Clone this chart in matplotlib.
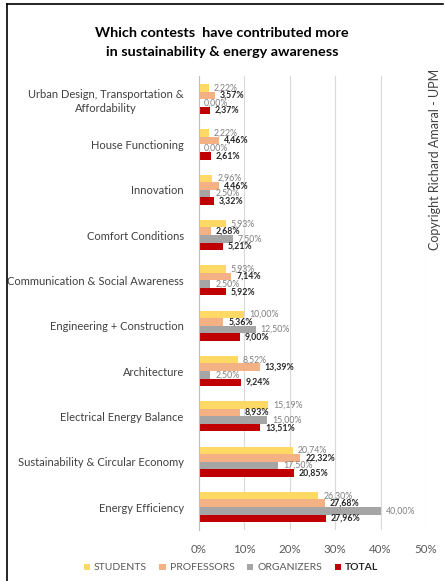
import matplotlib
matplotlib.use("Agg")
import matplotlib.pyplot as plt
from matplotlib.lines import Line2D
import numpy as np

plt.rcParams['font.family'] = ['Lato', 'DejaVu Sans']

categories = [
    "Urban Design, Transportation &\nAffordability",
    "House Functioning",
    "Innovation",
    "Comfort Conditions",
    "Communication & Social Awareness",
    "Engineering + Construction",
    "Architecture",
    "Electrical Energy Balance",
    "Sustainability & Circular Economy",
    "Energy Efficiency",
]
students = [2.22, 2.22, 2.96, 5.93, 5.93, 10.00, 8.52, 15.19, 20.74, 26.30]
professors = [3.57, 4.46, 4.46, 2.68, 7.14, 5.36, 13.39, 8.93, 22.32, 27.68]
organizers = [0.00, 0.00, 2.50, 7.50, 2.50, 12.50, 2.50, 15.00, 17.50, 40.00]
total = [2.37, 2.61, 3.32, 5.21, 5.92, 9.00, 9.24, 13.51, 20.85, 27.96]
series_names = ["STUDENTS", "PROFESSORS", "ORGANIZERS", "TOTAL"]
xticks = [0, 10, 20, 30, 40, 50]

colors = ["#FFD966", "#F4B183", "#A5A5A5", "#C00000"]
label_colors = ["#7F7F7F", "#262626", "#7F7F7F", "#262626"]
label_weights = ["normal", "bold", "normal", "bold"]

W, H = 445, 581
fig = plt.figure(figsize=(W / 100, H / 100), dpi=100)
ax = fig.add_axes([199 / W, 1 - 529.7 / H, (426 - 199) / W, (529.7 - 76.4) / H])

y = np.arange(len(categories))
h = 0.1667
all_series = [students, professors, organizers, total]
for k, vals in enumerate(all_series):
    offs = (k - 1.5) * h
    ax.barh(y + offs, vals, height=h, color=colors[k], label=series_names[k], zorder=3)
    for yi, v in zip(y, vals):
        ax.annotate(f"{v:.2f}%".replace(".", ","), xy=(v, yi + offs), xytext=(3.5, 0),
                    textcoords="offset points", va="center", ha="left",
                    fontsize=6.3, color=label_colors[k], fontweight=label_weights[k], zorder=4)

ax.set_xlim(0, 50)
ax.set_ylim(len(categories) - 0.5, -0.5)
ax.set_xticks(xticks)
ax.set_xticklabels([f"{t}%" for t in xticks])
ax.set_yticks(y)
ax.set_yticklabels(categories, multialignment="center", linespacing=1.35)
ax.tick_params(axis="both", length=0, colors="#595959", labelsize=8.3)
ax.tick_params(axis="y", pad=11, labelcolor="#404040", labelsize=8)
ax.tick_params(axis="x", pad=10)
ax.grid(axis="x", color="#D9D9D9", linewidth=0.8, zorder=0)
for s in ["top", "right", "bottom"]:
    ax.spines[s].set_visible(False)
ax.spines["left"].set_color("#BFBFBF")
ax.spines["left"].set_linewidth(0.8)
ax.spines["left"].set_zorder(5)

fig.text(222 / W, 1 - 42.5 / H,
         "Which contests  have contributed more\nin sustainability & energy awareness",
         ha="center", va="center", fontsize=10.4, fontweight="bold", color="#000000",
         linespacing=1.7)

fig.text(435 / W, 1 - 159 / H, "Copyright Richard Amaral - UPM", rotation=90,
         ha="center", va="center", fontsize=9, color="#404040")

handles, labels = ax.get_legend_handles_labels()
leg = fig.legend(handles, labels, loc="center", bbox_to_anchor=(231 / W, 1 - 568 / H),
                 ncol=4, frameon=False, fontsize=7.5, handlelength=0.6, handleheight=0.6,
                 handletextpad=0.4, columnspacing=1.2, labelcolor="#595959")
leg.get_texts()[3].set_fontweight("bold")
leg.get_texts()[3].set_color("#262626")

fig.add_artist(Line2D([7 / W, 443 / W], [1 - 4 / H, 1 - 4 / H], color="black", linewidth=1.2,
                      transform=fig.transFigure))
fig.add_artist(Line2D([7 / W, 7 / W], [1 - 4 / H, 0], color="black", linewidth=1.2,
                      transform=fig.transFigure))

fig.savefig("out.png", dpi=100)
